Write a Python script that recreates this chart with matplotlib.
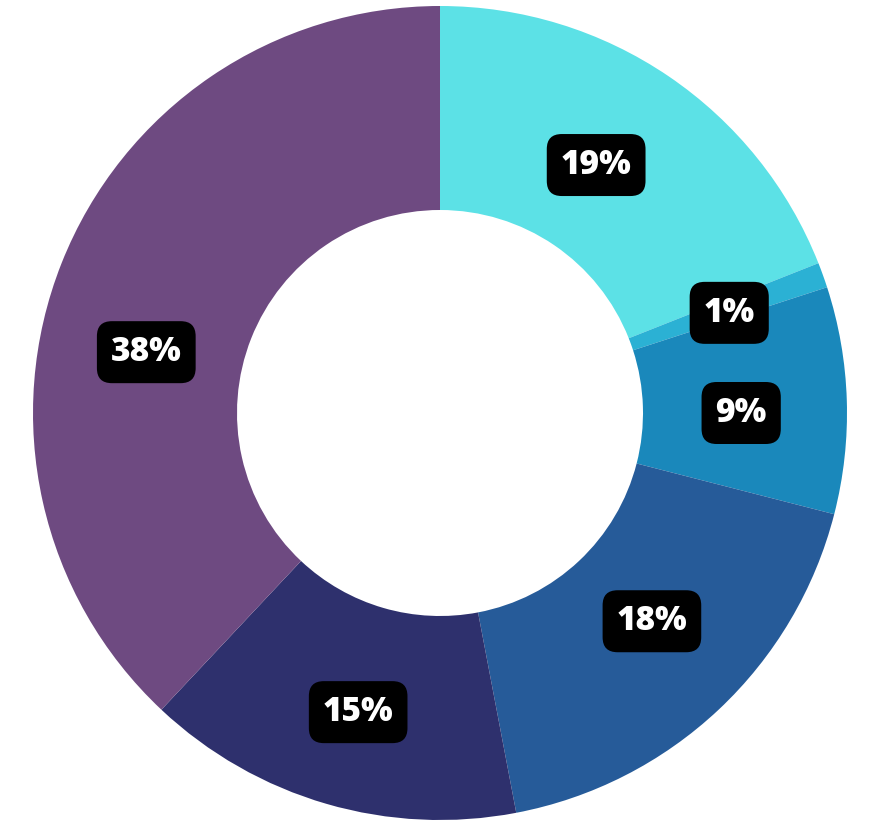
import numpy as np
import matplotlib
matplotlib.use("Agg")
import matplotlib.pyplot as plt

# slice data, clockwise from 12 o'clock
values = [19, 1, 9, 18, 15, 38]
labels = ["19%", "1%", "9%", "18%", "15%", "38%"]
colors = ["#5CE1E6", "#2BB1D4", "#1A88BB", "#265B99", "#2E306D", "#6E4A81"]
# small nudges so labels sit where the original puts them
label_nudge = [-2.0, 0.7, 1.8, -2.3, -0.9, -9.9]   # degrees, clockwise
label_rad = [0.72, 0.752, 0.74, 0.73, 0.762, 0.737]  # fraction of outer radius

W, H = 880, 827
cx, cy = 440, H - 413
R = 407
ring = 204

fig = plt.figure(figsize=(W / 100, H / 100), dpi=100)
ax = fig.add_axes([0, 0, 1, 1])

wedges, _ = ax.pie(
    values, colors=colors, startangle=90, counterclock=False,
    center=(cx, cy), radius=R, frame=True,
    wedgeprops=dict(width=ring, linewidth=0),
)

for w, lab, nudge, rf in zip(wedges, labels, label_nudge, label_rad):
    mid = np.deg2rad((w.theta1 + w.theta2) / 2 - nudge)
    r = R * rf
    ax.text(cx + r * np.cos(mid), cy + r * np.sin(mid), lab,
            ha="center", va="center", color="white", fontsize=24,
            fontweight=800, family="Open Sans",
            bbox=dict(boxstyle="round,pad=0.42,rounding_size=0.45",
                      fc="black", ec="none"))

ax.set_xlim(0, W)
ax.set_ylim(0, H)
ax.set_aspect("equal")
ax.axis("off")

fig.savefig("out.png", dpi=100)
